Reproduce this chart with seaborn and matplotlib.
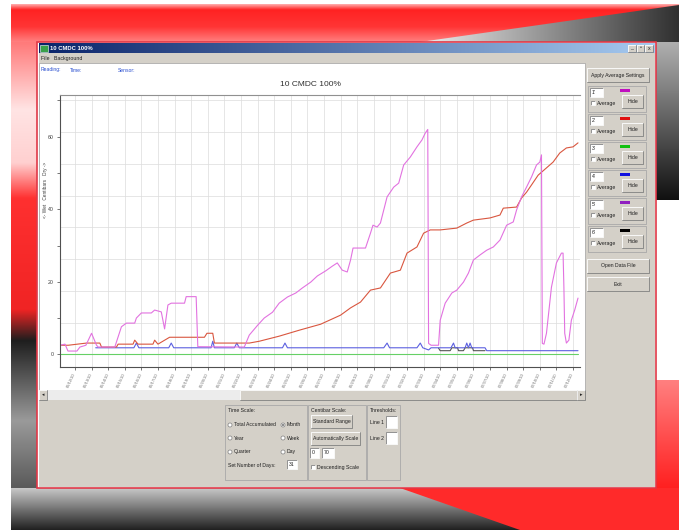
import numpy as np
import pandas as pd
import matplotlib
matplotlib.use('Agg')
import matplotlib.pyplot as plt
import seaborn as sns
from matplotlib.colors import LinearSegmentedColormap
from matplotlib.patches import Rectangle, Polygon, Circle

# ---- data (x = day index, y = centibars) ----
dates = pd.date_range('2010-06-12', periods=31).strftime('%m/%d/%y').tolist()
sensor_names = ["1'", "2'", "3'", "4'", "5'", "6'"]
swatch_colors = ['#c010c0', '#e01010', '#10c010', '#1010e0', '#9020c0', '#000000']

s1_day = [-0.9, -0.6, -0.42, 0.12, 0.3, 0.66, 1.0, 1.3, 1.4, 2.4, 2.8, 3.1, 3.6, 3.7, 4.0, 4.6,
          4.8, 5.2, 5.4, 5.6, 5.8, 6.6, 6.7, 7.3, 7.4, 10.2, 10.5, 11.0, 11.4, 11.9, 12.3, 12.8,
          13.3, 13.7, 14.2, 14.6, 15.1, 15.5, 15.8, 16.1, 16.4, 16.6, 16.75, 17.5, 17.8, 17.95,
          18.2, 18.4, 18.8, 19.2, 19.5, 19.8, 20.2, 20.6, 20.9, 21.1, 21.25, 21.3, 21.45, 21.9,
          22.0, 22.3, 22.7, 23.0, 23.4, 23.7, 24.0, 24.4, 24.8, 25.2, 25.6, 26.0, 26.4, 26.6,
          26.9, 27.2, 27.5, 27.8, 28.0, 28.1, 28.15, 28.25, 28.4, 28.7, 29.0, 29.3, 29.4, 29.45,
          29.5, 29.6, 29.75, 29.9, 30.1, 30.3]
s1_val = [2.5, 2.8, 0.9, 0.9, 2.0, 2.5, 5.8, 2.5, 2.0, 2.0, 7.6, 8.6, 8.6, 10.0, 11.4, 11.4,
          12.2, 11.7, 7.0, 13.6, 14.1, 14.1, 15.9, 15.9, 2.1, 2.0, 5.3, 8.0, 10.0, 11.6, 14.1, 15.8,
          16.9, 18.3, 19.9, 21.6, 23.0, 24.3, 25.2, 23.2, 22.7, 26.0, 29.3, 29.3, 33.4, 35.6,
          35.1, 36.2, 43.4, 46.1, 47.2, 52.2, 54.4, 57.2, 59.1, 61.0, 62.0, 3.0, 2.5, 2.5,
          9.4, 14.1, 16.9, 17.7, 19.9, 22.4, 26.0, 27.4, 28.7, 29.6, 31.5, 35.6, 36.5, 39.8,
          43.4, 46.1, 48.9, 52.2, 53.0, 55.0, 3.0, 2.8, 5.8, 18.5, 25.2, 27.9, 27.9, 18.5,
          5.8, 3.1, 3.9, 9.4, 12.2, 15.5]

s2_day = [-0.9, -0.4, 0.7, 1.5, 1.6, 2.5, 2.6, 3.5, 3.6, 3.8, 4.7, 4.8, 5.0, 5.7, 7.8, 7.95,
          8.3, 8.4, 10.5, 11.1, 12.3, 13.55, 14.8, 16.0, 16.6, 17.2, 17.8, 18.4, 19.0, 19.6,
          20.0, 20.6, 21.0, 21.4, 22.0, 23.0, 23.6, 24.0, 25.0, 25.6, 25.8, 26.6, 26.9, 27.2,
          27.5, 27.9, 28.4, 28.8, 29.2, 29.6, 30.0, 30.3]
s2_val = [2.5, 2.5, 3.1, 3.1, 2.0, 2.0, 2.8, 2.8, 3.9, 2.8, 2.8, 3.9, 2.8, 4.7, 4.7, 5.8,
          5.8, 3.1, 3.1, 3.6, 5.0, 6.7, 8.3, 10.8, 12.8, 14.4, 17.7, 18.3, 22.4, 23.2,
          27.9, 29.6, 33.4, 34.3, 34.3, 34.8, 36.2, 37.0, 37.6, 38.4, 40.3, 40.6, 43.1, 44.7,
          46.7, 49.4, 51.4, 53.0, 55.5, 56.9, 57.2, 58.3]

s3_day = [-0.9, 30.3]
s3_val = [0.0, 0.0]

s4_day = [1.25, 3.55, 3.7, 3.85, 5.65, 5.8, 5.95, 8.2, 8.3, 8.4, 9.6, 9.75, 9.9, 12.5, 12.65,
          12.8, 18.6, 18.8, 18.95, 20.6, 20.8, 20.95, 21.3, 21.45, 22.65, 22.8, 22.9, 23.5,
          23.6, 23.7, 23.8, 23.9, 24.7, 24.8, 30.3]
s4_val = [1.8, 1.8, 3.1, 1.8, 1.8, 3.1, 1.8, 1.8, 3.6, 1.8, 1.8, 3.1, 1.8, 1.8, 3.1,
          1.8, 1.8, 3.1, 1.8, 1.8, 3.1, 1.8, 1.2, 1.8, 1.8, 3.1, 1.8, 1.8,
          3.1, 1.8, 3.1, 1.8, 1.8, 1.0, 1.0]

s6_day = [21.9, 22.0, 22.6, 22.7, 23.05, 23.1, 23.4, 23.5, 23.95, 24.0, 24.7]
s6_val = [1.7, 1.0, 1.0, 1.8, 1.8, 1.0, 1.0, 1.8, 1.8, 1.0, 1.0]

series = [('3', s3_day, s3_val), ('6', s6_day, s6_val), ('4', s4_day, s4_val),
          ('2', s2_day, s2_val), ('1', s1_day, s1_val)]
df = pd.concat([pd.DataFrame({'day': d, 'value': v, 'sensor': n}) for n, d, v in series],
               ignore_index=True)
palette = {'1': '#e272e0', '2': '#d9563f', '3': '#66d066', '4': '#5c60e0', '6': '#555555'}

sns.set_theme(style='white')
plt.rcParams['font.family'] = ['Liberation Sans', 'DejaVu Sans']

W, H = 679, 530
fig = plt.figure(figsize=(W / 100, H / 100), dpi=100)
bg = fig.add_axes([0, 0, 1, 1], zorder=0)
bg.axis('off')
UI = '#d4d0c8'


def grad(x0, x1, y0, y1, colors, horizontal=False, clip=None, z=0):
    cmap = LinearSegmentedColormap.from_list('g', colors)
    v = np.linspace(0, 1, 256)
    arr = v[None, :] if horizontal else v[:, None]
    im = bg.imshow(arr, cmap=cmap, extent=(x0, x1, y1, y0), aspect='auto',
                   zorder=z, interpolation='bilinear')
    if clip is not None:
        bg.add_patch(clip)
        im.set_clip_path(clip)
    return im


def box3d(x, y, w, h, fc=UI, raised=True, z=4):
    bg.add_patch(Rectangle((x, y), w, h, fc=fc, ec='none', zorder=z))
    light, dark = ('white', '#808080') if raised else ('#808080', 'white')
    bg.plot([x, x, x + w], [y + h, y, y], color=light, lw=0.6, zorder=z + 0.1)
    bg.plot([x, x + w, x + w], [y + h, y + h, y], color=dark, lw=0.6, zorder=z + 0.1)


def txt(x, y, s, fs=3.7, color='#202020', **kw):
    bg.text(x, y, s, fontsize=fs, color=color, va='center', zorder=7, **kw)


def button(x, y, w, h, label, fs=3.7):
    box3d(x, y, w, h)
    txt(x + w / 2, y + h / 2, label, fs=fs, ha='center')


def field(x, y, w, h, label=''):
    box3d(x, y, w, h, fc='white', raised=False)
    txt(x + 1.5, y + h / 2, label)


def check(x, y, label):
    box3d(x, y - 2, 4, 4, fc='white', raised=False, z=5)
    txt(x + 6, y, label)


def radio(x, y, label, on=False):
    bg.add_patch(Circle((x + 2, y), 2, fc='white', ec='#808080', lw=0.5, zorder=5))
    if on:
        bg.add_patch(Circle((x + 2, y), 0.8, fc='#202020', ec='none', zorder=6))
    txt(x + 6, y, label)


def group(x, y, w, h, label):
    bg.add_patch(Rectangle((x, y), w, h, fc='none', ec='#a8a8a8', lw=0.6, zorder=4))
    txt(x + 3, y + 5, label)


# ---- slide background ----
grad(11, W, 4, 42, [(0, '#ffb0b0'), (0.15, '#ff2222'), (0.6, '#ff3535'), (1, '#ff8080')])
tri = Polygon([(420, 42), (W, 5), (W, 42)], closed=True, fc='none', ec='none')
grad(420, W, 5, 42, ['#f0f0f0', '#909090', '#303030'], horizontal=True, clip=tri, z=0.5)
grad(11, 37, 42, 488, [(0, '#ff7a7a'), (0.15, '#ffe4e4'), (0.27, '#ffd0d0'), (0.35, '#ff3030'),
                       (0.6, '#f02424'), (0.67, '#1e1e1e'), (0.85, '#9a9a9a'), (1, '#5a5a5a')])
grad(656, W, 42, 200, ['#b0b0b0', '#101010'])
grad(656, W, 380, 488, ['#ff8080', '#ff2020'])
grad(11, W, 488, H, ['#c8c8c8', '#202020'])
bg.add_patch(Polygon([(400, 488), (W, 488), (W, H), (520, H)], closed=True,
                     fc='#ff2a2a', ec='none', zorder=1))

# ---- window frame ----
bg.add_patch(Rectangle((37, 42), 619, 446, fc='white', ec='#e03848', lw=1.2, zorder=2))
bg.add_patch(Rectangle((38.5, 43), 616, 444, fc=UI, ec='none', zorder=2.1))
grad(38.5, 654.5, 43, 53, ['#0a246a', '#a6caf0'], horizontal=True, z=2.2)
bg.add_patch(Rectangle((39.5, 44.5), 8, 7, fc='#3aa04a', ec='white', lw=0.4, zorder=3))
txt(50, 48, '10 CMDC 100%', fs=4.2, color='white', fontweight='bold')
for i, s in enumerate(['_', '▫', 'x']):
    button(628 + 8.5 * i, 44.5, 7.5, 7, s, fs=3.8)
txt(41, 58.5, 'File   Background', fs=3.8)

# chart panel
bg.add_patch(Rectangle((39, 63), 546, 327, fc='white', ec='#a0a0a0', lw=0.5, zorder=2.5))
for x, s in [(41, 'Reading:'), (70, 'Time:'), (118, 'Sensor:')]:
    txt(x, 70, s, fs=3.6, color='#2a4fd0')
bg.text(310, 85, '10 CMDC 100%', fontsize=6, ha='center', va='center', color='#303030', zorder=7)
bg.text(46, 190, '<- Wet   Centibars   Dry ->', fontsize=3.4, rotation=90, ha='center',
        va='center', color='#404040', zorder=7)

# horizontal scrollbar
bg.add_patch(Rectangle((39, 390), 546, 10, fc='#ececec', ec='none', zorder=3))
button(39, 390, 8, 10, '◂', fs=3.5)
box3d(240, 390, 337, 10)
button(577, 390, 8, 10, '▸', fs=3.5)

# right panel
button(587, 68, 62, 14, 'Apply Average Settings')
for i, name in enumerate(sensor_names):
    y0 = 86 + 28 * i
    bg.add_patch(Rectangle((588, y0), 58, 26, fc='none', ec='#a8a8a8', lw=0.6, zorder=4))
    field(590, y0 + 2, 13, 9, name)
    bg.add_patch(Rectangle((620, y0 + 3), 10, 2.5, fc=swatch_colors[i], ec='none', zorder=5))
    check(591, y0 + 17, 'Average')
    button(622, y0 + 9, 21, 13, 'Hide')
button(587, 259, 62, 14, 'Open Data File')
button(587, 277, 62, 14, 'Exit')

# bottom panel
group(225, 405, 82, 75, 'Time Scale:')
radio(228, 425, 'Total Accumulated')
radio(281, 425, 'Month', on=True)
radio(228, 438, 'Year')
radio(281, 438, 'Week')
radio(228, 452, 'Quarter')
radio(281, 452, 'Day')
txt(228, 465, 'Set Number of Days:')
field(287, 460, 10, 9, '31')
group(308, 405, 58, 75, 'Centibar Scale:')
button(311, 415, 41, 13, 'Standard Range')
button(311, 432, 49, 13, 'Automatically Scale')
field(310, 448, 9, 10, '0')
field(322, 448, 12, 10, '70')
check(311, 467, 'Descending Scale')
group(367, 405, 33, 75, 'Thresholds:')
txt(370, 422, 'Line 1')
field(386, 416, 11, 12)
txt(370, 438, 'Line 2')
field(386, 432, 11, 12)

bg.set_xlim(0, W)
bg.set_ylim(H, 0)

# ---- the chart itself ----
ax = fig.add_axes([60 / W, 1 - 367 / H, 520 / W, 272 / H], zorder=3)
ax.set_facecolor('white')
sns.lineplot(data=df, x='day', y='value', hue='sensor', hue_order=['3', '6', '4', '2', '1'],
             palette=palette, sort=False, estimator=None, legend=False, linewidth=0.8, ax=ax)
for g in np.arange(8.75, 71, 8.75):
    ax.axhline(g, color='#dcdcdc', lw=0.5, zorder=0)
ax.set_xlim(-0.9, 30.42)
ax.set_ylim(-3.5, 71.5)
ax.set_xticks(range(len(dates)))
ax.set_xticklabels(dates, rotation=65, ha='right', va='center', rotation_mode='anchor',
                   fontsize=3, color='#707070')
ax.set_yticks([0, 20, 40, 60])
ax.set_yticklabels(['0', '20', '40', '60'], fontsize=3.8, color='#404040')
ax.set_yticks([10, 30, 50, 70], minor=True)
ax.tick_params(axis='both', which='both', direction='out', length=2.5, width=0.5,
               color='#404040', pad=2, left=True, bottom=True)
ax.xaxis.grid(True, color='#dcdcdc', lw=0.5)
ax.yaxis.grid(False)
ax.set_axisbelow(True)
ax.set_xlabel('')
ax.set_ylabel('')
ax.spines['right'].set_visible(False)
for k in ['left', 'bottom']:
    ax.spines[k].set_color('#505050')
    ax.spines[k].set_linewidth(0.8)
ax.spines['top'].set_color('#909090')
ax.spines['top'].set_linewidth(0.8)

fig.savefig('out.png', dpi=100)
